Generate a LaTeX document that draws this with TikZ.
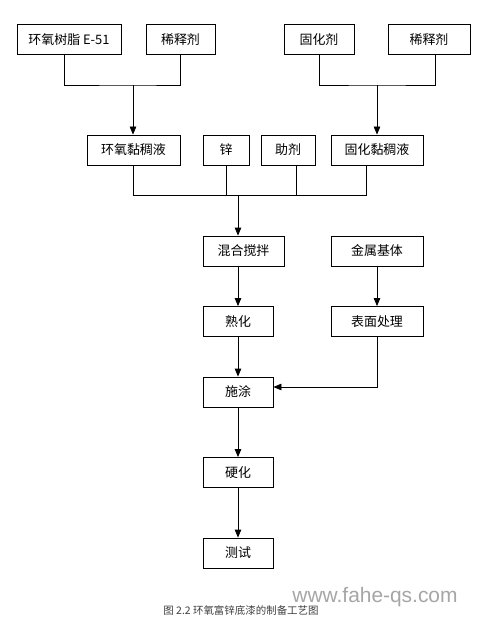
\documentclass[tikz,border=0pt]{standalone}
\usepackage{fontspec}
\setmainfont{Noto Sans CJK SC}
\newfontfamily\wmfont{Liberation Sans}
\usetikzlibrary{arrows.meta}
\begin{document}
\begin{tikzpicture}[x=1bp,y=-1bp,
  box/.style={draw,line width=0.8bp,inner sep=0pt,minimum height=30bp,font=\fontsize{13}{15}\selectfont},
  ln/.style={line width=0.8bp},
  arr/.style={line width=0.8bp,-{Triangle[length=8bp,width=6.5bp]}}]
\useasboundingbox (0,0) rectangle (493,617);
\fill[white] (0,0) rectangle (493,617);
% top row
\node[box,minimum width=104bp] (e51) at (69,39.5) {环氧树脂 E-51};
\node[box,minimum width=69bp] (xs1) at (180.5,39.5) {稀释剂};
\node[box,minimum width=70bp] (ghj) at (319,39.5) {固化剂};
\node[box,minimum width=82bp] (xs2) at (429,39.5) {稀释剂};
% second row
\node[box,minimum width=93bp] (hy) at (133.5,150) {环氧黏稠液};
\node[box,minimum width=46bp] (zn) at (226,150) {锌};
\node[box,minimum width=54bp] (zj) at (288,150) {助剂};
\node[box,minimum width=92bp] (gh) at (377,150) {固化黏稠液};
% process
\node[box,minimum width=81bp] (hh) at (243.5,251) {混合搅拌};
\node[box,minimum width=92bp] (js) at (377,251) {金属基体};
\node[box,minimum width=70bp] (sh) at (238,321.5) {熟化};
\node[box,minimum width=92bp] (bm) at (377,321.5) {表面处理};
\node[box,minimum width=70bp] (st) at (238,392) {施涂};
\node[box,minimum width=70bp] (yh) at (238,472.5) {硬化};
\node[box,minimum width=70bp] (cs) at (238,553) {测试};
% junctions
\coordinate (jL) at (133,85);
\coordinate (jR) at (377,85);
\coordinate (jM) at (238,195);
\draw[ln] ([xshift=-5bp]e51.south) |- (jL) -| (xs1.south);
\draw[arr] (jL) -- (jL |- hy.north);
\draw[ln] (ghj.south) |- (jR) -| ([xshift=6bp]xs2.south);
\draw[arr] (jR) -- (gh.north);
\draw[ln] (jL |- hy.south) |- ([xshift=-11bp]gh.south |- jM) -- ([xshift=-11bp]gh.south);
\draw[ln] (zn.south) -- (zn.south |- jM);
\draw[ln] ([xshift=8bp]zj.south) -- ([xshift=8bp]zj.south |- jM);
\draw[arr] (jM) -- (jM |- hh.north);
\draw[arr] (hh.south -| sh) -- (sh.north);
\draw[arr] (js.south) -- (bm.north);
\draw[arr] (sh.south) -- (st.north);
\draw[arr] (bm.south) |- ([yshift=5bp]st.east);
\draw[arr] (st.south) -- (yh.north);
\draw[arr] (yh.south) -- (cs.north);
% caption and watermark
\node[font=\fontsize{10.5}{12}\selectfont,text=black!75] (cap) at (241,610) {图 2.2 环氧富锌底漆的制备工艺图};
\node[font=\wmfont\fontsize{21}{24}\selectfont,text=black!35] (wm) at (375,597) {www.fahe-qs.com};
\end{tikzpicture}
\end{document}
